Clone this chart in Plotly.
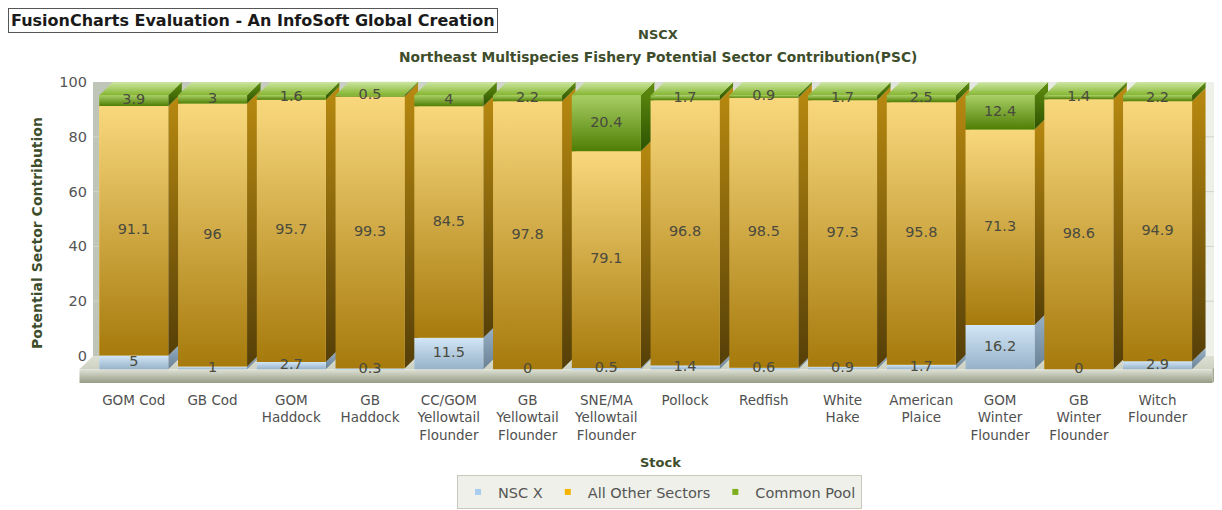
import plotly.graph_objects as go

# ---------------- data ----------------
categories = ["GOM Cod", "GB Cod", "GOM Haddock", "GB Haddock", "CC/GOM Yellowtail Flounder",
              "GB Yellowtail Flounder", "SNE/MA Yellowtail Flounder", "Pollock", "Redfish",
              "White Hake", "American Plaice", "GOM Winter Flounder", "GB Winter Flounder",
              "Witch Flounder"]
tick_labels = ["GOM Cod", "GB Cod", "GOM<br>Haddock", "GB<br>Haddock", "CC/GOM<br>Yellowtail<br>Flounder",
               "GB<br>Yellowtail<br>Flounder", "SNE/MA<br>Yellowtail<br>Flounder", "Pollock", "Redfish",
               "White<br>Hake", "American<br>Plaice", "GOM<br>Winter<br>Flounder", "GB<br>Winter<br>Flounder",
               "Witch<br>Flounder"]
nsc_x = [5, 1, 2.7, 0.3, 11.5, 0, 0.5, 1.4, 0.6, 0.9, 1.7, 16.2, 0, 2.9]
all_other_sectors = [91.1, 96, 95.7, 99.3, 84.5, 97.8, 79.1, 96.8, 98.5, 97.3, 95.8, 71.3, 98.6, 94.9]
common_pool = [3.9, 3, 1.6, 0.5, 4, 2.2, 20.4, 1.7, 0.9, 1.7, 2.5, 12.4, 1.4, 2.2]
series_names = ["NSC X", "All Other Sectors", "Common Pool"]
y_ticks = [0, 20, 40, 60, 80, 100]

series_values = [nsc_x, all_other_sectors, common_pool]

# ---------------- styles ----------------
FONT = "DejaVu Sans"
TITLE_COL = "#3e4d2b"
REG = 14.5
# (front top, front bottom, side top, side bottom, legend)
STYLES = [
    ("#d2e6f6", "#97b2c9", "#9ab3c8", "#6a8195", "#a9cdef"),
    ("#f9d87d", "#a67a0c", "#b98a10", "#553f08", "#f5b300"),
    ("#a7ce64", "#4f7e04", "#5f8e10", "#2e5200", "#7dae1c"),
]
TOP_FRONT, TOP_BACK = "#84b52e", "#cde6a4"

# ---------------- geometry (page pixel layout) ----------------
PW, PH = 1222, 510
OFF = 8                       # page body margin
W, H = PW - OFF, PH - OFF
X0, S = 133.8, 78.75          # centre of first bar (page px) and slot spacing (px)
Y0, K = 369.3, 2.74           # page y of value 0 on the front plane, px per unit
DXP, DYP = 13.5, 13.3         # 3D depth offset in px
BAR_W = 69 / S
ddx, ddy = DXP / S, DYP / K


def fx(px):
    return (px - X0) / S


def fy(py):
    return (Y0 - py) / K


def px_x(px):
    return (px - OFF) / W


def px_y(py):
    return 1 - (py - OFF) / H


x_range = [fx(OFF), fx(OFF + W)]
y_front = [fy(OFF + H), fy(OFF)]
y_back = [y_front[0] - ddy, y_front[1] - ddy]

WALL_L, WALL_R = fx(93), fx(1214)
FLOOR_BR = fx(1226)
FLOOR_T = 13.7 / K

fig = go.Figure()

# ---------- background (subplot x / y, back-plane coordinates) ----------
lo, hi = y_ticks[0], y_ticks[-1]
fig.add_trace(go.Scatter(
    x=[WALL_L, WALL_R, WALL_R, WALL_L, WALL_L], y=[lo, lo, hi, hi, lo],
    fill="toself", mode="lines", line=dict(width=0),
    fillgradient=dict(type="horizontal", colorscale=[[0, "#c0c5ba"], [1, "#eef1ea"]]),
    hoverinfo="skip", showlegend=False, xaxis="x", yaxis="y"))
for t in y_ticks[1:-1]:
    fig.add_trace(go.Scatter(x=[WALL_L, WALL_R], y=[t, t], mode="lines",
                             line=dict(color="#cfd5c8", width=1),
                             hoverinfo="skip", showlegend=False, xaxis="x", yaxis="y"))
fl_l, fl_r = WALL_L - ddx, FLOOR_BR - ddx
fig.add_trace(go.Scatter(
    x=[WALL_L, FLOOR_BR, fl_r, fl_l, WALL_L], y=[lo, lo, lo - ddy, lo - ddy, lo],
    fill="toself", mode="lines", line=dict(width=0),
    fillgradient=dict(type="vertical", colorscale=[[0, "#cdd1c1"], [1, "#dde0d3"]]),
    hoverinfo="skip", showlegend=False, xaxis="x", yaxis="y"))
fig.add_trace(go.Scatter(
    x=[fl_l, fl_r, fl_r, fl_l, fl_l],
    y=[lo - ddy, lo - ddy, lo - ddy - FLOOR_T, lo - ddy - FLOOR_T, lo - ddy],
    fill="toself", mode="lines", line=dict(width=0),
    fillgradient=dict(type="vertical", colorscale=[[0, "#969c85"], [1, "#dfe2d6"]]),
    hoverinfo="skip", showlegend=False, xaxis="x", yaxis="y"))
fig.add_trace(go.Scatter(
    x=[fl_r, FLOOR_BR, FLOOR_BR, fl_r, fl_r],
    y=[lo - ddy, lo, lo - FLOOR_T, lo - ddy - FLOOR_T, lo - ddy],
    fill="toself", mode="lines", line=dict(width=0), fillcolor="#a3a893",
    hoverinfo="skip", showlegend=False, xaxis="x", yaxis="y"))

# ---------- bars (subplot x2 / y2, front-plane coordinates) ----------
xs = list(range(len(categories)))
for name, vals, st in zip(series_names, series_values, STYLES):
    fig.add_trace(go.Bar(x=xs, y=vals, width=BAR_W, name=name,
                         marker=dict(color=st[0], line=dict(width=0)),
                         showlegend=False, xaxis="x2", yaxis="y2", hoverinfo="skip"))

text_x, text_y, text_s = [], [], []
for i in xs:
    xl, xr = i - BAR_W / 2, i + BAR_W / 2
    base = 0.0
    segs = []
    for vals, st in zip(series_values, STYLES):
        v = vals[i]
        segs.append((base, base + v, st))
        text_x.append(i)
        text_y.append(base + v / 2)
        text_s.append(f"{v:g}")
        base += v
    for y0, y1, st in segs:
        if y1 - y0 <= 0:
            continue
        fig.add_trace(go.Scatter(
            x=[xr, xr + ddx, xr + ddx, xr, xr], y=[y0, y0 + ddy, y1 + ddy, y1, y0],
            fill="toself", mode="lines", line=dict(width=0),
            fillgradient=dict(type="vertical", colorscale=[[0, st[3]], [1, st[2]]]),
            hoverinfo="skip", showlegend=False, xaxis="x2", yaxis="y2"))
    fig.add_trace(go.Scatter(
        x=[xl, xr, xr + ddx, xl + ddx, xl], y=[base, base, base + ddy, base + ddy, base],
        fill="toself", mode="lines", line=dict(width=0),
        fillgradient=dict(type="vertical", colorscale=[[0, TOP_FRONT], [1, TOP_BACK]]),
        hoverinfo="skip", showlegend=False, xaxis="x2", yaxis="y2"))
    for y0, y1, st in segs:
        if y1 - y0 <= 0:
            continue
        fig.add_trace(go.Scatter(
            x=[xl, xr, xr, xl, xl], y=[y0, y0, y1, y1, y0],
            fill="toself", mode="lines", line=dict(width=0),
            fillgradient=dict(type="vertical", colorscale=[[0, st[1]], [1, st[0]]]),
            hoverinfo="skip", showlegend=False, xaxis="x2", yaxis="y2"))

fig.add_trace(go.Scatter(x=text_x, y=text_y, text=text_s, mode="text",
                         textfont=dict(family=FONT, size=REG, color="#4a4a3e"),
                         hoverinfo="skip", showlegend=False, xaxis="x2", yaxis="y2"))

for name, st in zip(series_names, STYLES):
    fig.add_trace(go.Scatter(x=[None], y=[None], mode="markers", name=name,
                             marker=dict(symbol="square", size=6, color=st[4]),
                             xaxis="x2", yaxis="y2"))

fig.update_layout(
    width=W, height=H, autosize=False, barmode="stack",
    margin=dict(l=0, r=0, t=0, b=0),
    paper_bgcolor="white", plot_bgcolor="rgba(0,0,0,0)",
    font=dict(family=FONT, size=REG, color="#505050"),
    xaxis=dict(range=x_range, domain=[0, 1], visible=False, fixedrange=True),
    yaxis=dict(range=y_back, domain=[0, 1], anchor="free", position=px_x(93), side="left",
               tickvals=y_ticks, ticks="", showgrid=False, zeroline=False, showline=False,
               ticklabelstandoff=6, tickfont=dict(family=FONT, size=REG, color="#555"),
               fixedrange=True),
    xaxis2=dict(range=x_range, overlaying="x", anchor="free", position=px_y(390), side="bottom",
                tickvals=xs, ticktext=tick_labels, ticks="", showgrid=False, zeroline=False,
                showline=False, tickfont=dict(family=FONT, size=13.5, color="#505050"),
                fixedrange=True),
    yaxis2=dict(range=y_front, overlaying="y", visible=False, fixedrange=True),
    showlegend=True,
    legend=dict(orientation="h", x=px_x(659.5), xanchor="center", y=px_y(509), yanchor="bottom",
                traceorder="normal",
                bgcolor="#eef0e9", bordercolor="#c6cabd", borderwidth=1,
                font=dict(family=FONT, size=REG, color="#555"), itemwidth=30),
    annotations=[
        dict(text="<b>FusionCharts Evaluation - An InfoSoft Global Creation</b>", xref="paper",
             yref="paper", x=0, y=1, xanchor="left", yanchor="top", showarrow=False,
             font=dict(family=FONT, size=16, color="#1a1a1a"), bgcolor="white",
             bordercolor="#555", borderwidth=1, borderpad=2),
        dict(text="<b>NSCX</b>", xref="paper", yref="paper", x=px_x(658), y=px_y(35),
             xanchor="center", yanchor="middle", showarrow=False,
             font=dict(family=FONT, size=13, color=TITLE_COL)),
        dict(text="<b>Northeast Multispecies Fishery Potential Sector Contribution(PSC)</b>",
             xref="paper", yref="paper", x=px_x(658), y=px_y(57),
             xanchor="center", yanchor="middle", showarrow=False,
             font=dict(family=FONT, size=13.8, color=TITLE_COL)),
        dict(text="<b>Potential Sector Contribution</b>", xref="paper", yref="paper",
             x=px_x(37), y=px_y(233), xanchor="center", yanchor="middle", textangle=-90,
             showarrow=False, font=dict(family=FONT, size=14, color=TITLE_COL)),
        dict(text="<b>Stock</b>", xref="paper", yref="paper", x=px_x(660), y=px_y(462),
             xanchor="center", yanchor="middle", showarrow=False,
             font=dict(family=FONT, size=13, color=TITLE_COL)),
    ],
)

fig.write_html("out.html")
